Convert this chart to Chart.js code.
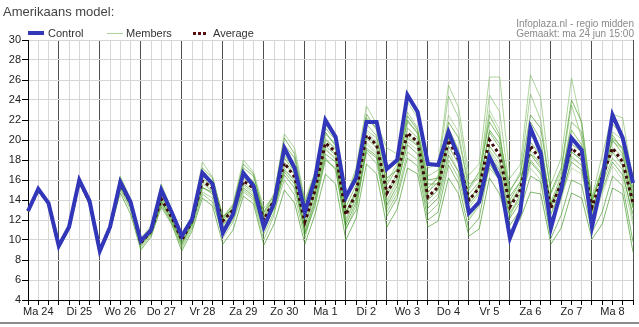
<!DOCTYPE html>
<html>
<head>
<meta charset="utf-8">
<script src="https://cdn.jsdelivr.net/npm/chart.js@4"></script>
<style>
  body { margin: 0; background: #fff; }
  #wrap { position: relative; width: 639px; height: 327px; font-family: "Liberation Sans", Arial, sans-serif; color: #333; }
  #chart { position: absolute; left: 0; top: 0; }
  .title { position: absolute; left: 3px; top: 4px; font-size: 13px; color: #444; }
  .info { position: absolute; right: 5px; top: 19px; font-size: 10px; line-height: 10px; text-align: right; color: #8a8a8a; }
  .leg { position: absolute; top: 27px; font-size: 11px; line-height: 12px; }
  .sym { position: absolute; }
  .bottom-line { position: absolute; left: 0; top: 322px; width: 639px; height: 2px; background: #8c8c8c; }
</style>
</head>
<body>
<div id="wrap">
  <canvas id="chart" width="639" height="327"></canvas>
  <div class="title">Amerikaans model:</div>
  <div class="info">Infoplaza.nl - regio midden<br>Gemaakt: ma 24 jun 15:00</div>
  <span class="sym" style="left:28px; top:31px; width:16px; height:4px; background:#3236b8;"></span>
  <span class="leg" style="left:48px;">Control</span>
  <span class="sym" style="left:107px; top:33px; width:16px; height:1px; background:#a9d39a;"></span>
  <span class="leg" style="left:126px;">Members</span>
  <span class="sym" style="left:193px; top:32px; width:13px; height:0; border-top:3px dotted #5a1010;"></span>
  <span class="leg" style="left:213px;">Average</span>
  <div class="bottom-line"></div>
</div>
<script>
// Day labels (centred at 12:00 of each day); data every 6 hours from Ma 24 06:00
const days = ['Ma 24', 'Di 25', 'Wo 26', 'Do 27', 'Vr 28', 'Za 29', 'Zo 30', 'Ma 1', 'Di 2', 'Wo 3', 'Do 4', 'Vr 5', 'Za 6', 'Zo 7', 'Ma 8'];
const hours = ['06', '12', '18', '00'];

const control = [12.9,15.1,13.7,9.4,11.3,16.0,13.9,8.9,11.3,15.8,13.8,9.9,11.0,15.0,12.8,10.4,12.1,16.7,15.6,10.7,12.6,16.7,15.4,11.3,13.7,19.2,17.2,12.8,16.2,22.0,20.3,14.3,16.2,21.8,21.8,17.1,18.0,24.5,22.8,17.6,17.5,20.8,18.3,12.7,13.8,18.3,16.2,10.2,12.8,21.2,18.7,11.2,15.0,20.2,19.0,11.3,16.0,22.5,20.2,15.7];
const average = [12.9,15.0,13.7,9.4,11.3,15.9,13.8,8.9,11.3,15.6,13.7,9.7,10.9,14.1,12.3,10.0,11.9,15.9,15.2,11.9,13.0,15.9,15.2,12.0,14.0,17.7,16.3,11.8,15.0,19.7,18.8,12.5,14.7,20.5,19.5,14.7,16.5,20.7,19.8,14.3,15.3,20.0,18.0,14.0,15.2,20.0,18.5,13.3,15.0,19.4,18.0,13.2,15.7,19.2,18.3,13.3,16.3,19.2,17.8,13.7];

const member1 = [12.9,15.3,13.8,9.5,11.4,16.1,13.9,9.0,11.4,16.4,14.1,10.2,11.4,15.6,13.1,10.6,12.2,17.8,16.3,12.3,13.6,18.0,16.8,13.2,14.4,20.6,19.2,14.0,16.8,21.5,20.2,14.3,17.2,23.4,21.6,19.2,18.6,23.8,22.2,17.2,17.6,25.5,23.2,16.5,17.6,26.3,26.3,16.2,17.5,26.5,24.2,15.6,18.2,26.2,21.5,14.3,18.5,22.6,22.2,15.8];
const member2 = [12.8,14.9,13.5,9.2,11.1,15.7,13.5,8.7,11.0,14.7,12.6,9.0,10.3,13.3,11.6,8.9,10.9,14.2,13.4,9.6,11.0,14.4,13.6,9.5,11.6,15.0,13.7,9.6,12.6,16.6,15.6,10.0,12.2,17.6,16.6,11.3,13.1,17.2,16.6,11.3,11.9,16.2,14.6,10.4,11.1,16.2,14.6,10.9,12.1,14.8,14.6,9.6,11.2,14.7,14.2,10.1,11.6,15.2,14.6,8.8];
const member3 = [12.9,15.1,13.7,9.4,11.3,16.0,13.9,8.9,11.3,15.9,13.9,9.8,11.0,14.6,12.6,10.2,12.0,16.4,15.6,12.1,13.2,16.5,15.8,12.4,14.2,18.5,17.0,12.5,15.6,20.6,19.6,13.3,15.5,21.6,20.4,15.5,17.2,21.8,20.8,15.2,16.2,21.2,19.0,14.6,15.8,22.5,20.5,14.0,15.8,20.5,19.2,13.8,16.4,21.0,19.5,13.8,17.0,20.5,19.0,14.2];
const member4 = [12.9,15.0,13.6,9.3,11.2,15.8,13.7,8.8,11.2,15.3,13.4,9.5,10.7,13.8,12.0,9.6,11.6,15.3,14.6,11.2,12.4,15.2,14.4,11.0,13.2,16.5,15.2,10.8,14.0,18.6,17.8,11.5,13.8,19.2,18.4,13.5,15.4,19.5,18.6,13.2,14.2,18.5,16.8,12.8,14.0,18.4,17.0,12.2,13.8,17.8,16.6,12.0,14.5,17.8,17.0,12.4,15.0,17.8,16.5,12.6];
const member5 = [12.9,15.2,13.8,9.5,11.4,16.0,13.8,9.0,11.4,15.8,13.6,9.6,11.0,14.4,12.4,10.0,12.0,16.0,15.0,11.5,12.8,16.4,15.6,12.6,14.5,19.2,17.6,12.2,15.2,20.2,19.0,12.0,14.2,20.8,19.8,14.0,16.0,20.4,19.5,14.6,16.5,22.5,20.8,15.0,16.5,23.0,21.0,12.8,14.4,19.0,17.4,11.5,14.0,18.2,17.5,12.8,16.0,19.8,19.2,14.8];
const member6 = [12.8,15.0,13.6,9.3,11.3,15.9,13.8,8.9,11.2,15.5,13.5,9.7,10.8,13.9,12.2,9.8,11.6,15.2,14.8,11.8,13.0,15.6,14.8,11.6,13.6,16.8,15.6,11.4,14.8,19.4,18.5,12.8,14.8,20.2,19.2,14.5,16.2,20.2,19.4,14.0,15.0,19.4,17.6,13.6,14.8,19.4,18.0,13.5,15.0,18.6,17.2,13.2,15.6,18.8,18.0,13.0,16.2,18.8,17.4,13.2];
const member7 = [12.9,15.1,13.7,9.4,11.3,15.9,13.8,8.9,11.3,15.2,13.2,9.4,10.6,13.6,11.8,9.4,11.4,14.8,14.2,10.2,11.8,14.8,14.0,10.0,12.5,17.5,16.6,11.0,14.4,19.0,18.2,11.8,14.2,21.0,20.2,15.8,17.6,22.8,21.2,16.4,17.0,24.4,22.2,15.6,16.2,24.5,22.8,14.8,16.8,24.6,22.0,14.6,16.8,23.5,20.2,14.2,17.2,20.8,20.0,14.6];
const member8 = [12.9,15.0,13.7,9.4,11.3,16.0,13.9,8.9,11.3,15.7,13.8,9.9,11.2,14.8,12.7,10.4,12.0,16.6,15.9,11.6,12.4,16.2,15.4,11.4,13.4,17.0,16.0,10.6,13.4,18.0,17.2,11.2,13.0,19.0,18.2,12.4,14.2,18.2,17.4,12.0,12.8,17.5,15.6,11.0,12.2,17.6,16.0,11.5,13.0,16.4,15.8,10.2,12.5,16.0,15.5,10.8,12.8,16.4,15.4,9.8];
const member9 = [12.9,15.1,13.7,9.4,11.3,15.9,13.8,8.9,11.3,15.6,13.7,9.8,10.9,14.2,12.5,10.1,11.9,16.2,15.3,12.0,13.3,17.2,16.4,12.8,14.0,18.2,16.8,12.0,15.3,20.0,19.2,12.6,14.6,20.4,19.6,14.8,16.6,21.2,20.2,14.8,15.8,20.6,18.6,13.8,15.6,20.8,19.2,13.6,15.4,21.8,20.0,13.4,16.0,21.8,20.8,13.8,17.2,21.6,20.4,14.0];
const member10 = [12.9,15.0,13.7,9.4,11.3,15.9,13.7,8.9,11.3,15.4,13.6,9.6,10.8,14.0,12.1,9.6,11.8,15.6,14.9,11.0,12.2,15.8,15.0,11.8,14.2,17.2,15.8,11.6,14.8,19.2,18.0,12.2,14.2,19.8,18.8,13.8,15.8,19.8,19.0,13.6,14.6,19.0,16.8,12.2,13.6,18.8,17.2,12.6,14.2,17.2,16.0,11.8,14.4,17.2,16.6,11.8,14.6,17.4,16.0,11.5];
const member11 = [12.9,15.2,13.8,9.5,11.4,16.1,14.0,9.0,11.4,16.0,14.0,9.9,11.1,15.0,12.9,10.3,12.1,17.0,15.8,12.2,13.5,17.6,16.6,12.3,13.8,19.5,18.2,13.4,16.2,20.8,19.4,13.8,16.5,22.2,21.2,17.0,17.8,22.4,21.0,16.0,16.2,21.8,20.2,15.2,16.8,21.8,20.2,15.0,16.5,22.5,21.2,14.8,17.2,24.0,21.8,13.6,15.2,20.2,19.2,15.2];
const member12 = [12.9,15.0,13.6,9.3,11.2,15.8,13.7,8.8,11.1,15.0,13.0,9.2,10.5,13.5,11.8,9.2,11.2,14.6,13.8,10.6,12.0,15.0,14.2,10.6,12.8,16.0,14.5,10.2,13.8,18.2,17.0,11.0,13.5,18.8,17.6,12.8,14.6,18.8,18.0,12.6,13.6,18.0,16.2,12.0,13.4,17.2,16.0,12.4,14.6,18.0,16.8,12.6,15.2,18.4,17.4,12.8,15.6,18.2,17.0,12.0];
const member13 = [12.9,15.1,13.7,9.4,11.3,16.0,13.8,8.9,11.3,16.2,14.0,10.0,11.2,15.2,13.0,10.6,12.1,17.2,16.2,12.4,13.0,16.8,15.8,12.8,14.6,20.2,18.6,13.8,16.6,21.2,20.0,14.2,16.8,22.6,21.0,16.2,17.0,22.0,20.6,15.6,15.6,20.2,18.4,14.2,15.2,21.0,19.6,14.4,15.8,19.8,18.4,13.6,15.8,19.6,18.8,14.0,16.6,20.0,18.6,13.4];
const member14 = [12.8,15.0,13.6,9.3,11.3,15.9,13.8,8.9,11.2,15.6,13.6,9.6,10.6,14.2,12.4,10.0,11.8,15.8,14.8,11.4,12.6,15.4,14.6,11.2,13.2,17.8,16.6,12.4,15.6,19.8,18.6,12.8,15.0,19.6,18.6,13.2,15.0,20.6,19.8,14.2,15.4,20.2,18.4,13.2,14.6,19.0,17.6,12.8,14.0,18.6,17.8,12.6,14.8,18.8,18.0,12.6,16.4,19.2,18.4,13.2];

const members = [member1, member2, member3, member4, member5, member6, member7, member8, member9, member10, member11, member12, member13, member14];

// one colour per member line
const memberColors = [
    'rgba(120,185,90,0.6)', 'rgba(60,150,30,0.65)', 'rgba(90,170,55,0.65)', 'rgba(50,140,20,0.6)',
    'rgba(140,195,115,0.6)', 'rgba(70,155,40,0.65)', 'rgba(115,180,85,0.6)', 'rgba(55,145,25,0.6)',
    'rgba(85,165,50,0.65)', 'rgba(150,200,130,0.6)', 'rgba(65,150,35,0.65)', 'rgba(100,175,70,0.6)',
    'rgba(60,148,30,0.6)', 'rgba(125,188,100,0.6)'
];

// x categories every 6 hours: Ma 24 06:00 ... Di 9 00:00
const labels = control.map((v, i) => (days[Math.floor((i + 1) / 4)] || 'Di 9') + ' ' + hours[i % 4]);

const datasets = [
    {
        label: 'Control',
        data: control,
        borderColor: '#3236b8',
        borderWidth: 4,
        order: 0
    },
    {
        label: 'Average',
        data: average,
        borderColor: '#3e0a0a',
        borderWidth: 3,
        borderDash: [3, 3],
        order: 1
    }
];
members.forEach((m, i) => {
    datasets.push({
        label: 'Member ' + (i + 1),
        data: m,
        borderColor: memberColors[i],
        borderWidth: 1,
        order: 2
    });
});

const tickFont = { family: '"Liberation Sans", Arial, sans-serif', size: 11 };

new Chart(document.getElementById('chart'), {
    type: 'line',
    data: { labels: labels, datasets: datasets },
    options: {
        responsive: false,
        animation: false,
        events: [],
        layout: { padding: { top: 40, right: 6, left: 0, bottom: 0 } },
        elements: {
            point: { radius: 0 },
            line: { tension: 0, borderCapStyle: 'butt', borderJoinStyle: 'miter' }
        },
        plugins: {
            legend: { display: false },
            title: { display: false },
            tooltip: { enabled: false }
        },
        scales: {
            x: {
                type: 'category',
                offset: false,
                border: { color: '#000', width: 1 },
                grid: {
                    color: (ctx) => (ctx.index % 4 === 3 ? '#505050' : '#d6d6d6'),
                    tickColor: '#000',
                    tickLength: 5,
                    drawTicks: true
                },
                ticks: {
                    autoSkip: false,
                    maxRotation: 0,
                    padding: 0,
                    color: '#222',
                    font: tickFont,
                    callback: function(value, index) {
                        return index % 4 === 1 ? days[(index - 1) / 4] : '';
                    }
                },
                afterFit: (scale) => { scale.height = 27; }
            },
            y: {
                min: 4,
                max: 30,
                border: { color: '#000', width: 1 },
                grid: { color: '#d6d6d6', tickColor: '#000', tickLength: 6 },
                ticks: { stepSize: 2, padding: 1, color: '#222', font: tickFont },
                afterFit: (scale) => { scale.width = 28; }
            }
        }
    }
});
</script>
</body>
</html>
